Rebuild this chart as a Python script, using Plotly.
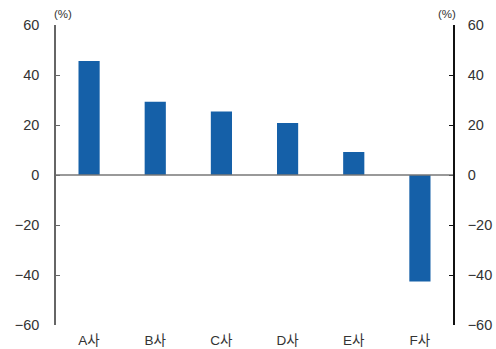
import plotly.graph_objects as go

categories = ["A사", "B사", "C사", "D사", "E사", "F사"]
values = [45.6, 29.3, 25.4, 20.8, 9.2, -42.6]
tick_vals = [-60, -40, -20, 0, 20, 40, 60]
tick_text = ["\u221260", "\u221240", "\u221220", "0", "20", "40", "60"]

FONT = "Liberation Sans, Arial, Noto Sans CJK KR, sans-serif"
BAR = "#1560A8"

fig = go.Figure()
fig.add_trace(go.Bar(x=categories, y=values, marker=dict(color=BAR, line=dict(width=0)),
                     width=0.32, showlegend=False))
# invisible twin trace to carry the right-hand axis
fig.add_trace(go.Scatter(x=categories, y=[None] * len(categories), yaxis="y2",
                         mode="markers", showlegend=False, hoverinfo="skip"))

yaxis_common = dict(range=[-60, 60], tickvals=tick_vals, ticktext=tick_text,
                    ticks="inside", ticklen=4, showgrid=False, zeroline=False,
                    tickfont=dict(family=FONT, size=14.5, color="#333333"),
                    showline=True, automargin=False)

fig.update_layout(
    width=496, height=349,
    margin=dict(l=56, r=43, t=25, b=24),
    paper_bgcolor="white", plot_bgcolor="white",
    barmode="overlay",
    xaxis=dict(showline=False, ticks="", showgrid=False, automargin=False,
               tickfont=dict(family=FONT, size=13.5, color="#333333"),
               ticklabelstandoff=5),
    yaxis=dict(**yaxis_common, side="left", linecolor="#666666", linewidth=1.5,
               tickcolor="#666666", ticklabelstandoff=12),
    yaxis2=dict(**yaxis_common, side="right", overlaying="y", linecolor="#111111",
                linewidth=1.5, tickcolor="#111111", ticklabelstandoff=10),
    shapes=[dict(type="line", xref="paper", yref="y", x0=0, x1=1, y0=0, y1=0,
                 line=dict(color="#777777", width=1.5), layer="above")],
    annotations=[
        dict(text="(%)", xref="paper", yref="paper", x=0.018, y=1.0, yshift=11,
             xanchor="center", yanchor="middle", showarrow=False,
             font=dict(family=FONT, size=11.5, color="#333333")),
        dict(text="(%)", xref="paper", yref="paper", x=0.985, y=1.0, yshift=11,
             xanchor="center", yanchor="middle", showarrow=False,
             font=dict(family=FONT, size=11.5, color="#333333")),
    ],
)

fig.write_html("out.html")
